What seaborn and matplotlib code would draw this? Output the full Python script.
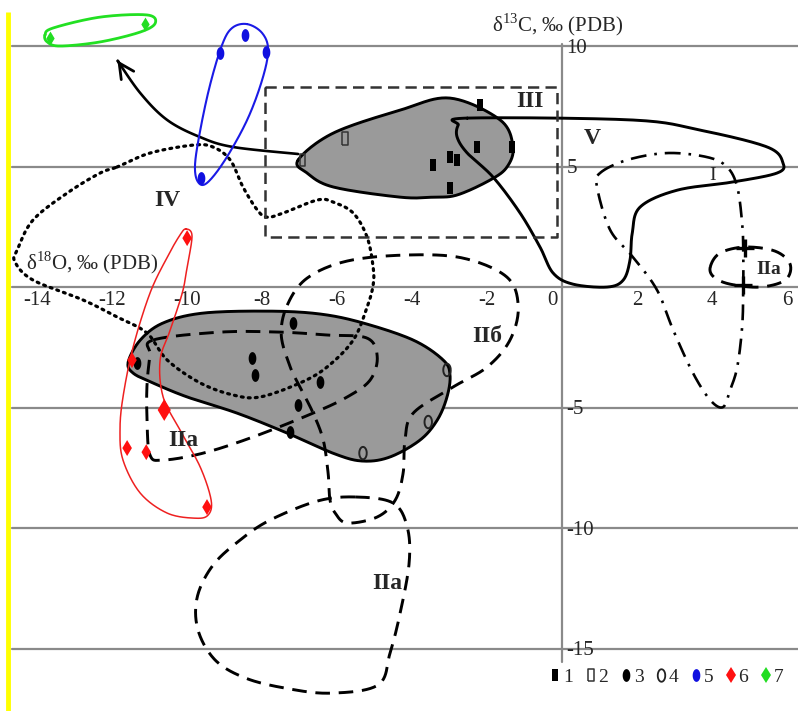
import numpy as np
import matplotlib
matplotlib.use("Agg")
import matplotlib.pyplot as plt
from matplotlib.lines import Line2D
import seaborn as sns

# ---- sample points (d18O, d13C), by group of the legend ----
g1_x = [-2.19, -2.27, -1.33, -2.99, -2.80, -3.44, -2.99]
g1_y = [7.55, 5.81, 5.81, 5.39, 5.27, 5.06, 4.11]
g2_x = [-5.79, -6.93]
g2_y = [6.18, 5.27]
g3_x = [-11.33, -8.27, -8.19, -7.17, -6.45, -7.04, -7.25]
g3_y = [-3.15, -2.95, -3.65, -1.49, -3.94, -4.90, -6.02]
g4_x = [-3.07, -3.57, -5.31]
g4_y = [-3.44, -5.60, -6.89]
g5_x = [-8.45, -9.12, -7.89, -9.63]
g5_y = [10.46, 9.71, 9.75, 4.52]
g6_x = [-10.00, -11.47, -10.61, -11.60, -11.09, -9.47]
g6_y = [2.03, -3.03, -5.10, -6.68, -6.85, -9.13]
g7_x = [-13.65, -11.12]
g7_y = [10.33, 10.91]
cross_x = [4.88, 4.83]
cross_y = [1.62, 0.08]
legend_labels = ["1", "2", "3", "4", "5", "6", "7"]

# ---- field outlines ----
gray_up_x = [-7.04, -6.10, -4.32, -2.99, -1.65, -1.31, -1.47, -1.92, -2.80, -3.44, -4.32, -6.10, -6.80]
gray_up_y = [5.27, 6.39, 7.34, 7.84, 6.93, 5.81, 4.98, 4.44, 3.82, 3.73, 3.73, 4.15, 4.73]

gray_lo_x = [-11.57, -11.25, -10.64, -9.57, -7.79, -6.45, -5.31, -3.97, -3.17, -2.99, -3.07,
             -3.33, -3.79, -4.59, -5.31, -6.05, -7.33, -8.67, -10.00, -10.91, -11.44]
gray_lo_y = [-3.11, -2.20, -1.49, -1.08, -1.00, -1.12, -1.49, -2.20, -3.03, -3.65, -4.56,
             -5.52, -6.35, -7.05, -7.22, -6.93, -6.06, -5.23, -4.56, -3.98, -3.57]

v_x = [-2.53, 1.89, 3.68, 5.47, 5.89, 5.73, 4.56, 3.07, 2.08, 1.87, 1.81, 1.63, 1.20,
       0.29, -0.24, -0.59, -1.12, -1.84, -2.53, -2.80, -2.77]
v_y = [7.01, 6.93, 6.51, 5.81, 5.15, 4.73, 4.36, 4.02, 3.32, 2.24, 1.12, 0.29, 0.00,
       0.12, 0.58, 1.66, 3.07, 4.56, 5.56, 6.22, 6.72]

i_x = [1.01, 1.73, 2.80, 3.87, 4.40, 4.67, 4.80, 4.83, 4.83, 4.80, 4.67, 4.48, 4.29,
       3.95, 3.49, 2.96, 2.53, 1.89, 1.28, 0.93]
i_y = [4.73, 5.27, 5.56, 5.39, 4.98, 4.15, 2.66, 1.54, -0.12, -1.66, -3.32, -4.27, -4.98,
       -4.69, -3.57, -1.78, -0.12, 1.24, 2.37, 4.15]

iia_r_x = [3.95, 4.21, 4.88, 5.68, 6.08, 5.95, 5.28, 4.48, 4.05]
iia_r_y = [0.83, 1.41, 1.66, 1.49, 0.95, 0.29, 0.00, 0.12, 0.41]

iv_x = [-11.87, -10.99, -9.84, -9.31, -8.85, -8.51, -8.13, -7.87, -7.44, -6.53, -6.11, -5.57,
        -5.20, -5.04, -5.04, -5.20, -5.57, -6.27, -6.99, -8.05, -8.77, -9.65, -10.53, -11.07,
        -11.87, -12.77, -14.11, -14.59, -14.53, -14.11, -13.20, -12.32]
iv_y = [4.98, 5.56, 5.89, 5.81, 5.27, 4.15, 3.20, 2.90, 3.07, 3.61, 3.53, 3.07,
        2.07, 0.83, 0.08, -0.83, -2.20, -3.32, -3.98, -4.56, -4.48, -3.98, -3.03, -1.91,
        -1.24, -0.54, 0.29, 1.04, 1.54, 2.78, 3.90, 4.73]

iia_l_x = [-10.91, -9.12, -7.52, -6.27, -5.20, -4.93, -5.12, -5.73, -6.64, -8.24, -9.57,
           -10.64, -10.99, -11.07, -11.07, -10.99]
iia_l_y = [-2.20, -1.87, -1.87, -1.99, -2.12, -2.90, -3.86, -4.56, -5.23, -6.22, -6.89,
           -7.18, -6.97, -5.52, -4.07, -2.82]

iib_x = [-7.33, -6.80, -5.73, -4.13, -2.64, -1.47, -1.17, -1.39, -2.00, -2.91, -3.97, -4.19,
         -4.24, -4.45, -4.93, -5.73, -6.05, -6.19, -6.24, -6.37, -6.64, -6.99, -7.25, -7.49]
iib_y = [-0.75, 0.37, 1.08, 1.33, 1.20, 0.41, -0.83, -2.20, -3.32, -4.15, -5.23, -6.35,
         -7.72, -8.84, -9.54, -9.79, -9.38, -8.84, -7.72, -6.35, -5.23, -4.15, -3.32, -1.99]

iia_b_x = [-5.52, -4.51, -4.13, -4.08, -4.32, -4.59, -4.91, -6.19, -7.39, -8.45, -9.25,
           -9.71, -9.73, -9.31, -8.59, -7.79, -6.53]
iia_b_y = [-8.71, -8.96, -9.96, -11.45, -13.53, -15.19, -16.51, -16.85, -16.64, -16.22, -15.48,
           -14.23, -12.86, -11.54, -10.50, -9.67, -8.88]

red_x = [-10.03, -9.87, -10.00, -10.13, -10.45, -10.72, -10.64, -10.19, -9.65, -9.36, -9.44,
         -9.79, -10.53, -11.25, -11.71, -11.79, -11.71, -11.44, -10.99, -10.53, -10.19]
red_y = [2.41, 2.12, 0.83, -0.25, -1.78, -3.03, -4.56, -5.93, -7.47, -8.84, -9.46,
         -9.59, -9.38, -8.55, -7.18, -5.93, -4.56, -2.49, -0.25, 1.24, 2.16]

blue_x = [-8.40, -8.00, -7.84, -8.00, -8.40, -8.99, -9.47, -9.71, -9.79, -9.65, -9.39, -9.07, -8.80]
blue_y = [10.91, 10.54, 9.83, 8.59, 6.93, 5.27, 4.32, 4.36, 5.06, 6.51, 8.38, 10.04, 10.75]

green_x = [-13.79, -13.57, -12.32, -11.07, -10.85, -11.25, -12.32, -13.39, -13.73]
green_y = [10.46, 10.75, 11.20, 11.29, 10.95, 10.58, 10.17, 10.00, 10.17]

arrow_x = [-7.04, -8.77, -9.65, -10.53, -11.25, -11.90]
arrow_y = [5.52, 5.81, 6.22, 6.93, 8.05, 9.50]

box_x = [-7.92, -0.13, -0.13, -7.92, -7.92]
box_y = [8.30, 8.30, 2.07, 2.07, 8.30]

grid_y = [10, 5, 0, -5, -10, -15]
x_ticks = [-14, -12, -10, -8, -6, -4, -2, 0, 2, 4, 6]
y_ticks = [10, 5, -5, -10, -15]


def smooth(xs, ys, closed=True, n=24):
    # Catmull-Rom spline through the outline points
    p = np.column_stack([xs, ys]).astype(float)
    if closed:
        pts = np.vstack([p[-1], p, p[0], p[1]])
    else:
        pts = np.vstack([p[0], p, p[-1]])
    t = np.linspace(0, 1, n, endpoint=False)[:, None]
    out = []
    for i in range(1, len(pts) - 2):
        p0, p1, p2, p3 = pts[i - 1], pts[i], pts[i + 1], pts[i + 2]
        out.append(0.5 * (2 * p1 + (-p0 + p2) * t + (2 * p0 - 5 * p1 + 4 * p2 - p3) * t ** 2
                          + (-p0 + 3 * p1 - 3 * p2 + p3) * t ** 3))
    out = np.vstack(out + [pts[-2][None, :]])
    return out[:, 0], out[:, 1]


sns.set_theme(style="white")
plt.rcParams["font.family"] = ["Liberation Serif", "DejaVu Serif"]
plt.rcParams["mathtext.fontset"] = "custom"
plt.rcParams["mathtext.rm"] = "Liberation Serif"

fig = plt.figure(figsize=(7.98, 7.11), dpi=100)
ax = fig.add_axes([0, 0, 1, 1])
ax.set_xlim(-14.99, 6.29)
ax.set_ylim(-17.59, 11.91)
ax.axis("off")

# yellow strip on the left edge
ax.plot([-14.77, -14.77], [11.41, -17.59], color="#ffff00", lw=3.5, solid_capstyle="butt")

# grid lines and axis
for gy in grid_y:
    ax.plot([-14.67, 6.29], [gy, gy], color="#8a8a8a", lw=1.6, zorder=1)
ax.plot([0, 0], [10.1, -15.55], color="#8a8a8a", lw=1.6, zorder=1)

for xt in x_ticks:
    if xt == 0:
        ax.text(-0.12, -0.55, "0", ha="right", va="center", fontsize=15)
    else:
        ax.text(xt, -0.55, str(xt), ha="center", va="center", fontsize=15)
for yt in y_ticks:
    ax.text(0.12, yt - 0.1, str(yt), ha="left", va="center", fontsize=15)

ax.text(-0.13, 10.9, r"δ$^{13}$C, ‰ (PDB)", ha="center", va="center", fontsize=15)
ax.text(-12.53, 1.0, r"δ$^{18}$O, ‰ (PDB)", ha="center", va="center", fontsize=15)

# gray filled fields
for fx, fy in [(gray_up_x, gray_up_y), (gray_lo_x, gray_lo_y)]:
    sx, sy = smooth(fx, fy)
    ax.fill(sx, sy, color="#9a9a9a", zorder=2)
    ax.plot(sx, sy, color="black", lw=2.1, zorder=3)

# outlines
sx, sy = smooth(v_x, v_y)
ax.plot(sx, sy, color="black", lw=2.1, zorder=3)
sx, sy = smooth(i_x, i_y)
ax.plot(sx, sy, color="black", lw=1.9, ls=(0, (6, 3, 1, 3)), zorder=3)
for fx, fy in [(iia_r_x, iia_r_y), (iia_l_x, iia_l_y), (iib_x, iib_y), (iia_b_x, iia_b_y)]:
    sx, sy = smooth(fx, fy)
    ax.plot(sx, sy, color="black", lw=2.1, ls=(0, (5, 3)), zorder=3)
sx, sy = smooth(iv_x, iv_y)
ax.plot(sx, sy, color="black", lw=2.3, ls=(0, (0.6, 1.6)), dash_capstyle="round", zorder=3)
ax.plot(box_x, box_y, color="#333333", lw=1.8, ls=(0, (4.5, 2.5)), zorder=3)

sx, sy = smooth(red_x, red_y)
ax.plot(sx, sy, color="#ee2020", lw=1.1, zorder=4)
sx, sy = smooth(blue_x, blue_y)
ax.plot(sx, sy, color="#1a1ae6", lw=1.5, zorder=4)
sx, sy = smooth(green_x, green_y)
ax.plot(sx, sy, color="#22e022", lw=2.0, zorder=4)

# arrow
sx, sy = smooth(arrow_x, arrow_y, closed=False)
ax.plot(sx[:-3], sy[:-3], color="black", lw=1.9, zorder=3)
ax.annotate("", xy=(sx[-1], sy[-1]), xytext=(sx[-6], sy[-6]),
            arrowprops=dict(arrowstyle="->,head_length=0.9,head_width=0.45", color="black", lw=2.0),
            zorder=3)

# markers
rect_m = [(-0.42, -1), (0.42, -1), (0.42, 1), (-0.42, 1), (-0.42, -1)]
tt = np.linspace(0, 2 * np.pi, 40)
ell_m = list(zip(0.6 * np.cos(tt), np.sin(tt)))

sns.scatterplot(x=g1_x, y=g1_y, marker=rect_m, s=75, color="black", linewidth=0, ax=ax, zorder=5)
sns.scatterplot(x=g2_x, y=g2_y, marker=rect_m, s=85, facecolor="none", edgecolor="#333333",
                linewidth=1.1, ax=ax, zorder=5)
sns.scatterplot(x=g3_x, y=g3_y, marker=ell_m, s=85, color="black", linewidth=0, ax=ax, zorder=5)
sns.scatterplot(x=g4_x, y=g4_y, marker=ell_m, s=80, facecolor="none", edgecolor="#222222",
                linewidth=1.4, ax=ax, zorder=5)
sns.scatterplot(x=g5_x, y=g5_y, marker=ell_m, s=85, color="#1010e0", linewidth=0, ax=ax, zorder=5)
sns.scatterplot(x=g6_x, y=g6_y, marker="d", s=[66, 66, 125, 66, 66, 66], color="#ff1010",
                linewidth=0, ax=ax, zorder=5)
sns.scatterplot(x=g7_x, y=g7_y, marker="d", s=50, color="#22dd22", linewidth=0, ax=ax, zorder=5)
sns.scatterplot(x=cross_x, y=cross_y, marker="+", s=170, color="black", linewidth=2.4, ax=ax, zorder=5)

# field labels
for lx, ly, txt, fs, fw in [(-0.85, 7.68, "III", 17, "bold"), (0.8, 6.18, "V", 17, "bold"),
                            (4.0, 4.62, "I", 14, "normal"), (5.5, 0.71, "IIa", 14, "bold"),
                            (-10.53, 3.61, "IV", 17, "bold"), (-2.0, -2.07, "IIб", 17, "bold"),
                            (-10.1, -6.35, "IIa", 17, "bold"), (-4.67, -12.28, "IIa", 17, "bold")]:
    ax.text(lx, ly, txt, ha="center", va="center", fontsize=fs, fontweight=fw, zorder=6)

# legend
handles = [
    Line2D([], [], ls="none", marker=rect_m, ms=8.7, color="black", mew=0),
    Line2D([], [], ls="none", marker=rect_m, ms=9.2, mfc="none", mec="#333333", mew=1.1),
    Line2D([], [], ls="none", marker=ell_m, ms=9.2, color="black", mew=0),
    Line2D([], [], ls="none", marker=ell_m, ms=9.0, mfc="none", mec="#222222", mew=1.3),
    Line2D([], [], ls="none", marker=ell_m, ms=9.2, color="#1010e0", mew=0),
    Line2D([], [], ls="none", marker="d", ms=8.5, color="#ff1010", mew=0),
    Line2D([], [], ls="none", marker="d", ms=8.5, color="#22dd22", mew=0),
]
ax.legend(handles, legend_labels, loc="center left", bbox_to_anchor=(0.69, 0.048), ncol=7,
          frameon=False, fontsize=14, handlelength=0.5, handletextpad=0.15, columnspacing=0.65,
          borderpad=0, borderaxespad=0)

fig.savefig("out.png", dpi=100)
